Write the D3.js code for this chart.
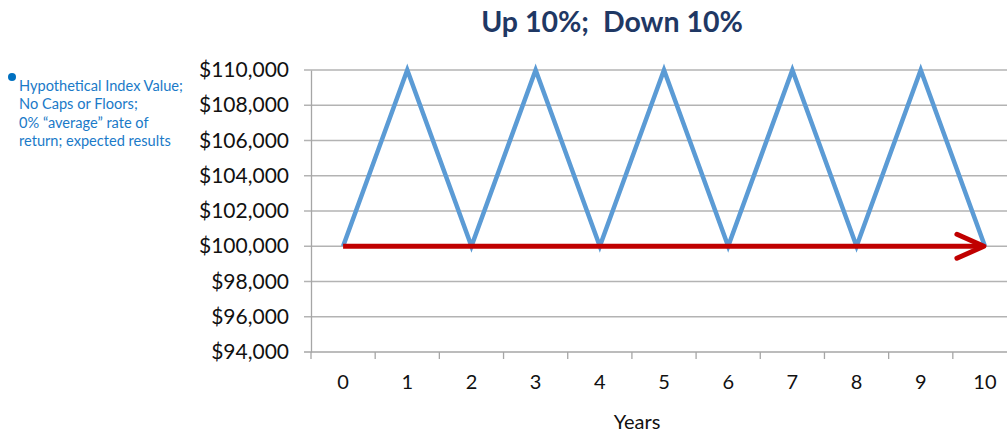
<!DOCTYPE html>
<html lang="en">
<head>
<meta charset="UTF-8">
<title>Up 10%; Down 10%</title>
<script src="https://d3js.org/d3.v7.min.js"></script>
<style>
  body { margin: 0; background: #fff; }
  text { font-family: Lato, "Open Sans", sans-serif; }
</style>
</head>
<body>
<svg id="chart" width="1007" height="433"></svg>
<script>
var years = [0, 1, 2, 3, 4, 5, 6, 7, 8, 9, 10];
var indexValues = [100000, 110000, 100000, 110000, 100000, 110000, 100000, 110000, 100000, 110000, 100000];
var expectedValues = [100000, 100000];   // start and end of the red arrow
var yTicks = [94000, 96000, 98000, 100000, 102000, 104000, 106000, 108000, 110000];
var legendLines = ["Hypothetical Index Value;", "No Caps or Floors;", "0% \u201caverage\u201d rate of", "return; expected results"];

var svg = d3.select("#chart");

var plotL = 311, plotR = 1017, plotT = 70, plotB = 352;

var x = d3.scaleBand().domain(years).range([plotL, plotR]);
var y = d3.scaleLinear().domain([94000, 110000]).range([plotB, plotT]);
var cx = function (d) { return x(d) + x.bandwidth() / 2; };

// gridlines
svg.append("g")
    .selectAll("line")
    .data(yTicks)
    .enter().append("line")
    .attr("x1", plotL - 7)
    .attr("x2", 1007)
    .attr("y1", function (d) { return y(d); })
    .attr("y2", function (d) { return y(d); })
    .attr("stroke", function (d) { return d === 94000 ? "#a6a6a6" : "#b3b3b3"; })
    .attr("stroke-width", 1.3);

// y axis
var yAxis = svg.append("g")
    .attr("transform", "translate(" + plotL + ",0)")
    .call(d3.axisLeft(y).tickValues(yTicks).tickSize(0).tickPadding(22)
        .tickFormat(function (d) { return "$" + d3.format(",")(d); }));
yAxis.select(".domain").attr("stroke", "#a6a6a6").attr("stroke-width", 1.3);
yAxis.selectAll("text").attr("font-size", 21).attr("fill", "#111")
    .style("font-family", "Lato, 'Open Sans', sans-serif");

// x axis: ticks between categories
var xAxis = svg.append("g")
    .attr("transform", "translate(0," + plotB + ")");
xAxis.selectAll("line")
    .data(years.concat([11]))
    .enter().append("line")
    .attr("x1", function (d, i) { return plotL + i * x.bandwidth(); })
    .attr("x2", function (d, i) { return plotL + i * x.bandwidth(); })
    .attr("y1", 0)
    .attr("y2", 7)
    .attr("stroke", "#a6a6a6")
    .attr("stroke-width", 1.3);
xAxis.selectAll("text")
    .data(years)
    .enter().append("text")
    .attr("x", cx)
    .attr("y", 37)
    .attr("text-anchor", "middle")
    .attr("font-size", 20)
    .attr("fill", "#111")
    .text(function (d) { return d; });

svg.append("text")
    .attr("x", 637)
    .attr("y", 429)
    .attr("text-anchor", "middle")
    .attr("font-size", 20)
    .attr("fill", "#111")
    .text("Years");

// blue index line
var line = d3.line()
    .x(function (d, i) { return cx(years[i]); })
    .y(function (d) { return y(d); });
svg.append("path")
    .datum(indexValues)
    .attr("d", line)
    .attr("fill", "none")
    .attr("stroke", "#5b9bd5")
    .attr("stroke-width", 4.5)
    .attr("stroke-linejoin", "miter");

// red arrow
var ax1 = cx(years[0]), ax2 = cx(years[years.length - 1]);
var ay1 = y(expectedValues[0]), ay2 = y(expectedValues[1]);
svg.append("line")
    .attr("x1", ax1).attr("y1", ay1)
    .attr("x2", ax2 - 3).attr("y2", ay2)
    .attr("stroke", "#c00000")
    .attr("stroke-width", 5);
svg.append("path")
    .attr("d", "M" + (ax2 - 28) + "," + (ay2 - 12) + "L" + (ax2 - 1) + "," + ay2 + "L" + (ax2 - 28) + "," + (ay2 + 12))
    .attr("fill", "none")
    .attr("stroke", "#c00000")
    .attr("stroke-width", 5)
    .attr("stroke-linecap", "round")
    .attr("stroke-linejoin", "round");

// title
svg.append("text")
    .attr("x", 612)
    .attr("y", 32)
    .attr("text-anchor", "middle")
    .attr("font-size", 28.5)
    .attr("font-weight", "bold")
    .attr("fill", "#1f3864")
    .text("Up 10%;\u00a0 Down 10%");

// legend note
svg.append("circle")
    .attr("cx", 12)
    .attr("cy", 77)
    .attr("r", 4)
    .attr("fill", "#0070c0");
svg.append("g")
    .selectAll("text")
    .data(legendLines)
    .enter().append("text")
    .attr("x", 19)
    .attr("y", function (d, i) { return 91 + i * 18.3; })
    .attr("font-size", 14.6)
    .attr("fill", "#1a7ac8")
    .text(function (d) { return d; });
</script>
</body>
</html>
